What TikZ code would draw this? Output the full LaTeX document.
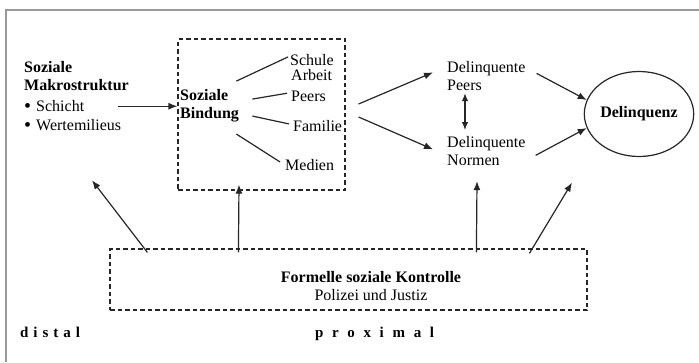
\documentclass[tikz,border=0pt]{standalone}
\usepackage{fontspec}
\setmainfont{Liberation Serif}
\usepackage{tikz}
\usetikzlibrary{shapes, arrows.meta, positioning, calc}
\newcommand{\bigdot}{{\fontsize{20}{18}\selectfont\raisebox{-1.6pt}{\textbullet}}}
\tikzset{
    base/.style={inner sep=0pt, align=left, font=\fontsize{16}{18.5}\selectfont},
    txt/.style={base, anchor=base west},
    multi/.style={base, anchor=north west},
    dashbox/.style={draw=black!85, line width=1.2pt, dash pattern=on 4.5pt off 3pt, inner sep=0pt},
    plain-line/.style={draw=black!85, line width=1.2pt},
    line/.style={plain-line, -{Latex[length=9pt, width=7pt]}},
    both-line/.style={plain-line, {Latex[length=8pt, width=6.5pt]}-{Latex[length=8pt, width=6.5pt]}},
    frame/.style={draw=black!40, line width=2pt},
    spaced/.style={txt, font=\fontsize{15}{18}\selectfont\bfseries\addfontfeature{LetterSpace=#1}}
}

\begin{document}
\begin{tikzpicture}[x=1pt, y=-1pt]
    \useasboundingbox [fill=white] (0,0) rectangle (699,362);
    \draw [frame] (6,362) -- (6,10) -- (699,10);

    % distal side
    \node [multi] (makro) at (24,61) {\textbf{Soziale}\\\textbf{Makrostruktur}};
    \node [txt] (schicht) at (24,111) {\bigdot\hspace{5pt}Schicht};
    \node [txt] (werte) at (24,130) {\bigdot\hspace{5pt}Wertemilieus};

    % soziale bindung
    \node [dashbox, minimum width=167, minimum height=151] (sbox) at (261.5,114.5) {};
    \node [multi] (bind) at (180,89) {\textbf{Soziale}\\\textbf{Bindung}};
    \node [txt] (schule) at (290,65) {Schule};
    \node [txt] (arbeit) at (291,80) {Arbeit};
    \node [txt] (speers) at (291,101) {Peers};
    \node [txt] (familie) at (293,131) {Familie};
    \node [txt] (medien) at (285,170) {Medien};

    % proximal side
    \node [multi] (dpeers) at (447,61) {Delinquente\\Peers};
    \node [multi] (dnormen) at (447,136) {Delinquente\\Normen};
    \node [base, ellipse, draw=black!85, line width=1.2pt, minimum width=106, minimum height=85] (delinq) at (639,114) {\textbf{Delinquenz}};

    \node [dashbox, minimum width=477, minimum height=61] (kbox) at (348.5,279.5) {};
    \node [base, align=center, anchor=north] (kontrolle) at (371,271) {\textbf{Formelle soziale Kontrolle}\\Polizei und Justiz};

    \node [spaced=33] (distal) at (20,337) {distal};
    \node [spaced=58] (proximal) at (315,337) {proximal};

    \draw [line] ([xshift=34pt]schicht.east) -- (sbox.west |- schicht.east);

    \draw [plain-line] ([shift={(-2.7,-24.7)}]bind.east) -- ([shift={(-2,-2.6)}]schule.west);
    \draw [plain-line] ([shift={(13.3,-6.7)}]bind.east) -- ([shift={(-4,-2.6)}]speers.west);
    \draw [plain-line] ([shift={(13.3,10.3)}]bind.east) -- ([shift={(-4,-1.6)}]familie.west);
    \draw [plain-line] ([shift={(-2.7,28.3)}]bind.east) -- ([shift={(-5,-2.6)}]medien.west);

    \draw [line] ([shift={(13,-10.5)}]sbox.east) -- ([shift={(-14,-3.7)}]dpeers.west);
    \draw [line] ([shift={(13,2.5)}]sbox.east) -- ([shift={(-14,-1.7)}]dnormen.west);
    \draw [both-line] ([shift={(18,2)}]dpeers.south west) -- ([shift={(18,-6)}]dnormen.north west);
    \draw [line] ([shift={(11,-2.7)}]dpeers.east) -- (delinq.165);
    \draw [line] ([shift={(10,4.3)}]dnormen.east) -- (delinq.195);

    \draw [line] ([shift={(38,4)}]kbox.north west) -- ([shift={(68,48.5)}]werte.south west);
    \draw [line] ([shift={(129,4)}]kbox.north west) -- ([shift={(-22.5,-6)}]sbox.south);
    \draw [line] ([shift={(367,4)}]kbox.north west) -- ([shift={(30,15)}]dnormen.south west);
    \draw [line] ([shift={(420,5)}]kbox.north west) -- ([shift={(-67,25.5)}]delinq.south);
\end{tikzpicture}
\end{document}
